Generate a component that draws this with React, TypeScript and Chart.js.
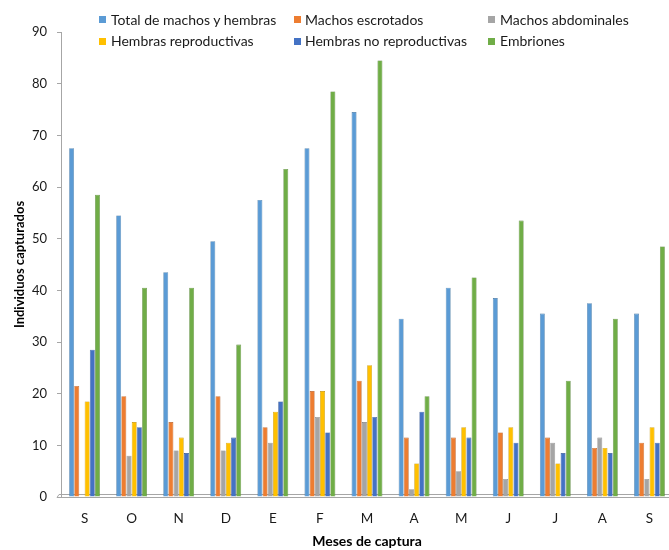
import React, { useEffect, useRef } from "react";
import { Chart, registerables } from "chart.js";

Chart.register(...registerables);

const categories = ["S", "O", "N", "D", "E", "F", "M", "A", "M", "J", "J", "A", "S"];
const seriesNames = [
  "Total de machos y hembras",
  "Machos escrotados",
  "Machos abdominales",
  "Hembras reproductivas",
  "Hembras no reproductivas",
  "Embriones",
];
const totalMH = [67.5, 54.5, 43.5, 49.5, 57.5, 67.5, 74.5, 34.5, 40.5, 38.5, 35.5, 37.5, 35.5];
const machosEscrotados = [21.5, 19.5, 14.5, 19.5, 13.5, 20.5, 22.5, 11.5, 11.5, 12.5, 11.5, 9.5, 10.5];
const machosAbdominales = [0, 8, 9, 9, 10.5, 15.5, 14.5, 1.5, 5, 3.5, 10.5, 11.5, 3.5];
const hembrasReproductivas = [18.5, 14.5, 11.5, 10.5, 16.5, 20.5, 25.5, 6.5, 13.5, 13.5, 6.5, 9.5, 13.5];
const hembrasNoReproductivas = [28.5, 13.5, 8.5, 11.5, 18.5, 12.5, 15.5, 16.5, 11.5, 10.5, 8.5, 8.5, 10.5];
const embriones = [58.5, 40.5, 40.5, 29.5, 63.5, 78.5, 84.5, 19.5, 42.5, 53.5, 22.5, 34.5, 48.5];
const yTicks = [0, 10, 20, 30, 40, 50, 60, 70, 80, 90];

const fills = ["#5B9BD5", "#ED7D31", "#A5A5A5", "#FFC000", "#4472C4", "#70AD47"];
const borders = ["#41719C", "#AE5A21", "#787878", "#BC8C00", "#2F528F", "#507E32"];
const seriesData = [totalMH, machosEscrotados, machosAbdominales, hembrasReproductivas, hembrasNoReproductivas, embriones];

const FONT = "Lato, 'Open Sans', sans-serif";

const floorPlugin = {
  id: "floor",
  beforeDatasetsDraw(chart: any) {
    const { ctx, chartArea } = chart;
    ctx.save();
    ctx.strokeStyle = "#A6A6A6";
    ctx.lineWidth = 1;
    ctx.beginPath();
    ctx.moveTo(chartArea.left - 4, chartArea.bottom + 0.5);
    ctx.lineTo(chartArea.right, chartArea.bottom + 0.5);
    ctx.moveTo(chartArea.left - 2, chartArea.bottom - 2.5);
    ctx.lineTo(chartArea.right, chartArea.bottom - 2.5);
    ctx.moveTo(chartArea.left - 2, chartArea.bottom - 2.5);
    ctx.lineTo(chartArea.left - 4, chartArea.bottom + 0.5);
    ctx.stroke();
    ctx.restore();
  },
};

export default function App() {
  const ref = useRef<HTMLCanvasElement>(null);
  useEffect(() => {
    if (!ref.current) return;
    const chart = new Chart(ref.current, {
      type: "bar",
      data: {
        labels: categories,
        datasets: seriesNames.map((name, i) => ({
          label: name,
          data: seriesData[i],
          backgroundColor: fills[i],
          borderColor: borders[i],
          borderWidth: 0.6,
          categoryPercentage: 0.66,
          barPercentage: 0.95,
        })),
      },
      options: {
        responsive: false,
        animation: false,
        layout: { padding: { top: 32, right: 27, bottom: 0, left: 0 } },
        plugins: { legend: { display: false }, tooltip: { enabled: false } },
        scales: {
          x: {
            grid: { display: false, drawTicks: false },
            border: { display: false },
            ticks: { padding: 14, color: "#1a1a1a", font: { family: FONT, size: 13.5 } },
            title: {
              display: true,
              text: "Meses de captura",
              color: "#000",
              font: { family: FONT, size: 14, weight: "bold" },
              padding: { top: 0, bottom: 0 },
            },
            afterFit(scale: any) {
              scale.height = 53;
            },
          },
          y: {
            min: 0,
            max: 90,
            afterBuildTicks(scale: any) {
              scale.ticks = yTicks.map((v) => ({ value: v }));
            },
            grid: { drawOnChartArea: false, drawTicks: true, tickLength: 4, color: "#A6A6A6" },
            border: { display: true, color: "#A6A6A6", width: 1 },
            ticks: { padding: 10, color: "#1a1a1a", font: { family: FONT, size: 13 } },
            title: {
              display: true,
              text: "Individuos capturados",
              color: "#000",
              font: { family: FONT, size: 13, weight: "bold" },
              padding: { top: 12, bottom: 0 },
            },
            afterFit(scale: any) {
              scale.width = 61;
            },
          },
        },
      },
      plugins: [floorPlugin],
    });
    return () => chart.destroy();
  }, []);

  const legendCols = [
    { box: 99, text: 111 },
    { box: 294, text: 305 },
    { box: 488, text: 500 },
  ];
  const legendRows = [19.5, 41];

  return (
    <div
      style={{
        position: "fixed",
        left: 0,
        top: 0,
        width: 669,
        height: 550,
        overflow: "hidden",
        background: "#fff",
      }}
    >
      <canvas ref={ref} width={700} height={550} style={{ position: "absolute", left: 0, top: 0, width: 700, height: 550 }} />
      {seriesNames.map((name, i) => {
        const col = legendCols[i % 3];
        const rowY = legendRows[Math.floor(i / 3)];
        return (
          <React.Fragment key={name}>
            <div
              style={{
                position: "absolute",
                left: col.box,
                top: rowY - 3.5,
                width: 7,
                height: 7,
                background: fills[i],
              }}
            />
            <div
              style={{
                position: "absolute",
                left: col.text,
                top: rowY - 9,
                height: 18,
                lineHeight: "18px",
                fontFamily: FONT,
                fontSize: 14,
                color: "#1a1a1a",
                whiteSpace: "nowrap",
              }}
            >
              {name}
            </div>
          </React.Fragment>
        );
      })}
    </div>
  );
}
